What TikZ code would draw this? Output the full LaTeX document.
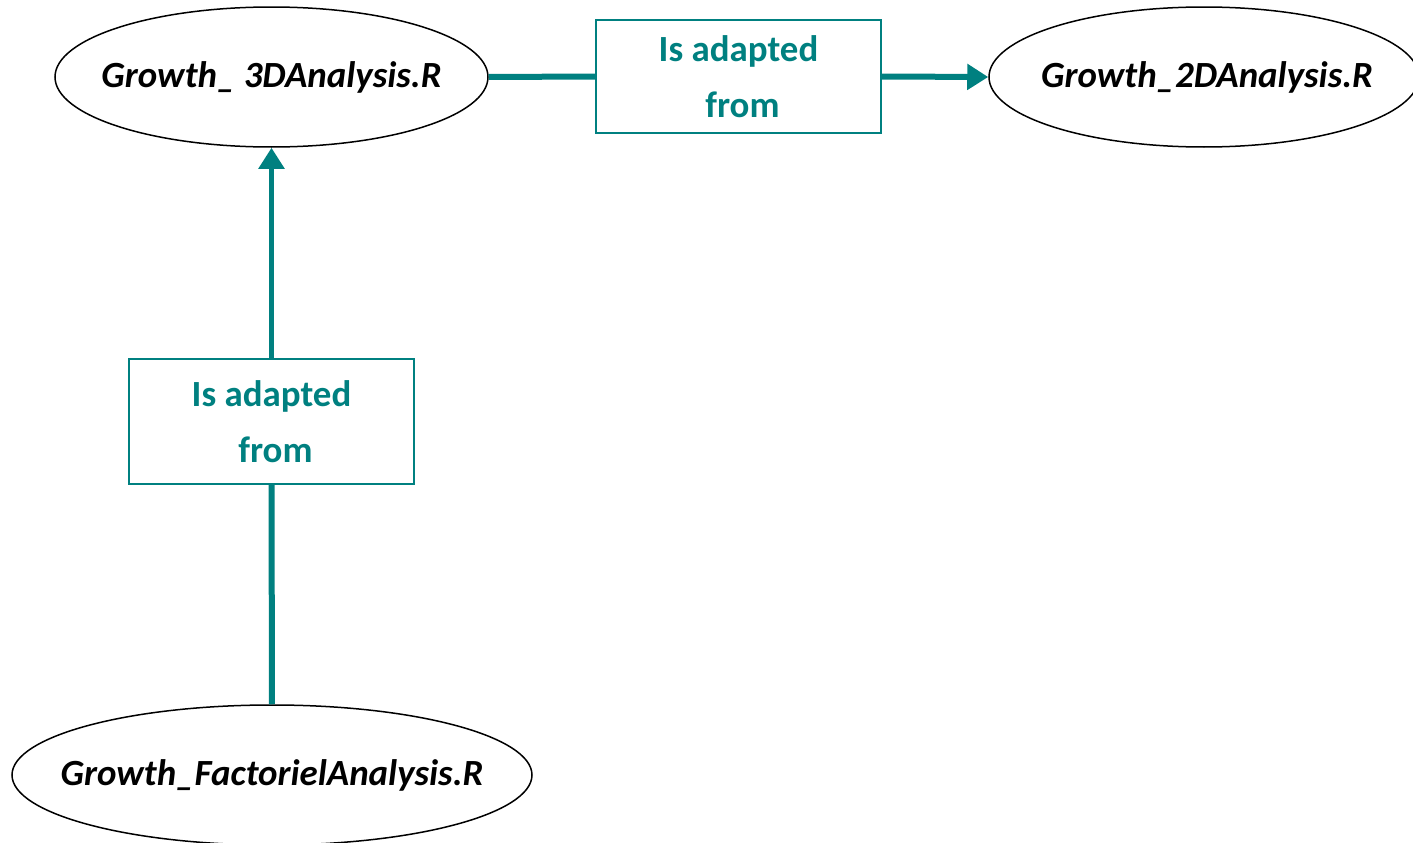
\documentclass[tikz,border=0pt]{standalone}
\usepackage{fontspec}
\setmainfont{Carlito}
\usetikzlibrary{shapes.geometric,arrows.meta}
\definecolor{tealline}{HTML}{008080}
\newcommand{\fname}[1]{\makebox[0pt][c]{#1}}
\tikzset{
  filenode/.style={draw=black, line width=0.015cm, ellipse, inner sep=0pt,
    font=\fontsize{10.5pt}{12pt}\selectfont\bfseries\itshape},
  relbox/.style={draw=tealline, line width=0.02cm, rectangle, inner sep=0pt,
    minimum width=2.85cm, text=tealline, align=center,
    font=\fontsize{10.5pt}{15.9pt}\selectfont\bfseries},
  link/.style={draw=tealline, line width=0.06cm},
  linkarrow/.style={link, -{Triangle[length=0.21cm, width=0.25cm]}}
}
\begin{document}
\begin{tikzpicture}
\useasboundingbox (0,0) rectangle (14.13,-8.43);
\node[filenode, minimum width=4.33cm, minimum height=1.40cm] (grow3d) at (2.715,-0.77) {\fname{Growth\_ 3DAnalysis.R}};
\node[filenode, minimum width=4.30cm, minimum height=1.40cm] (grow2d) at (12.04,-0.77) {\fname{\hspace{0.06cm}Growth\_2DAnalysis.R}};
\node[filenode, minimum width=5.20cm, minimum height=1.40cm] (growfact) at (2.72,-7.75) {\fname{Growth\_FactorielAnalysis.R}};
\node[relbox, minimum height=1.13cm] (adapt1) at (7.385,-0.765) {Is adapted\\ \hspace{0.08cm}from};
\node[relbox, minimum height=1.25cm] (adapt2) at (2.715,-4.215) {Is adapted\\ \hspace{0.08cm}from};
\draw[link] (grow3d.east) -- (adapt1.west);
\draw[linkarrow] (adapt1.east) -- (grow2d.west);
\draw[link] (growfact.north) -- (adapt2.south);
\draw[linkarrow] (adapt2.north) -- (grow3d.south);
\end{tikzpicture}
\end{document}
